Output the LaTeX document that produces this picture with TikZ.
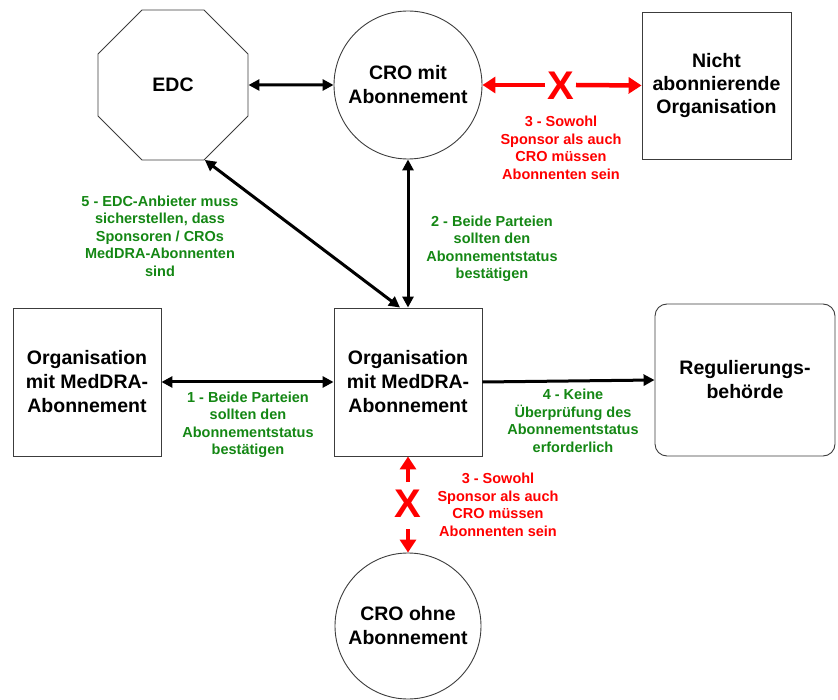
\documentclass[tikz,border=0pt]{standalone}
\usepackage{fontspec}
\setmainfont{Liberation Sans}
\usetikzlibrary{shapes.geometric,arrows.meta}
\definecolor{lblgreen}{RGB}{20,135,20}
\definecolor{lblred}{RGB}{255,0,0}
\definecolor{edge}{RGB}{60,60,60}
\tikzset{
  mainfont/.style={font=\bfseries\fontsize{19.5}{24}\selectfont, align=center},
  shapebox/.style={draw=edge, line width=0.9pt, mainfont, inner sep=0pt},
  rectbox/.style={shapebox, rectangle, minimum width=148pt, minimum height=148pt},
  circbox/.style={shapebox, circle, minimum size=148pt},
  barrow/.style={line width=3pt, black, {Triangle[length=11pt,width=11pt]}-{Triangle[length=11pt,width=11pt]}},
  barrowone/.style={line width=3pt, black, -{Triangle[length=11pt,width=11pt]}},
  rarrow/.style={line width=4.5pt, lblred, -{Triangle[length=13pt,width=16pt]}},
  greenlbl/.style={text=lblgreen, font=\bfseries\fontsize{14.5}{17.5}\selectfont, align=center},
  redlbl/.style={text=lblred, font=\bfseries\fontsize{14.5}{17.5}\selectfont, align=center},
  crossmark/.style={text=lblred, font=\bfseries\fontsize{40}{40}\selectfont, inner sep=0pt}
}
\begin{document}
\begin{tikzpicture}[x=1pt,y=-1pt]
\useasboundingbox (0,0) rectangle (838,700);
% nodes
\node[shapebox, regular polygon, regular polygon sides=8, minimum size=162.4pt] (edc) at (173,85) {EDC};
\node[circbox] (crom) at (408,85) {CRO mit\\Abonnement};
\node[rectbox, minimum width=149pt, minimum height=147pt, font=\bfseries\fontsize{19.5}{23}\selectfont] (nicht) at (716.5,85.5) {Nicht\\abonnierende\\Organisation};
\node[rectbox] (left) at (87,382) {Organisation\\mit MedDRA-\\Abonnement};
\node[rectbox] (cbox) at (408,382) {Organisation\\mit MedDRA-\\Abonnement};
\node[shapebox, rectangle, rounded corners=12pt, minimum width=180pt, minimum height=152pt] (reg) at (745,380) {Regulierungs-\\behörde};
\node[circbox, minimum size=146pt] (croo) at (408,626) {CRO ohne\\Abonnement};
% black connectors
\draw[barrow] (edc.east) -- (crom.west);
\draw[barrow] (edc.-67.5) -- ([xshift=-8pt]cbox.north);
\draw[barrow] (crom.south) -- (cbox.north);
\draw[barrow] (left.east) -- (cbox.east -| cbox.west);
\draw[barrowone] (cbox.east) -- (reg.west);
% red connectors
\coordinate (xl) at (545,85);
\coordinate (xr) at (576,85);
\node[crossmark] (xtop) at (561,86) {X};
\draw[rarrow] (xl) -- (crom.east);
\draw[rarrow] (xr) -- (nicht.west);
\coordinate (bu) at (408,482);
\coordinate (bd) at (408,529);
\node[crossmark] (xbot) at (408,504) {X};
\draw[rarrow] (bu) -- (cbox.south);
\draw[rarrow] (bd) -- (croo.north);
% labels
\node[redlbl] (l3a) at (561,148) {3 - Sowohl\\Sponsor als auch\\CRO müssen\\Abonnenten sein};
\node[greenlbl] (l5) at (160,236) {5 - EDC-Anbieter muss\\sicherstellen, dass\\Sponsoren / CROs\\MedDRA-Abonnenten\\sind};
\node[greenlbl] (l2) at (492,249) {2 - Beide Parteien\\sollten den\\Abonnementstatus\\bestätigen};
\node[greenlbl] (l1) at (248,425) {1 - Beide Parteien\\sollten den\\Abonnementstatus\\bestätigen};
\node[greenlbl] (l4) at (573,421) {4 - Keine\\Überprüfung des\\Abonnementstatus\\erforderlich};
\node[redlbl] (l3b) at (498,505) {3 - Sowohl\\Sponsor als auch\\CRO müssen\\Abonnenten sein};
\end{tikzpicture}
\end{document}
